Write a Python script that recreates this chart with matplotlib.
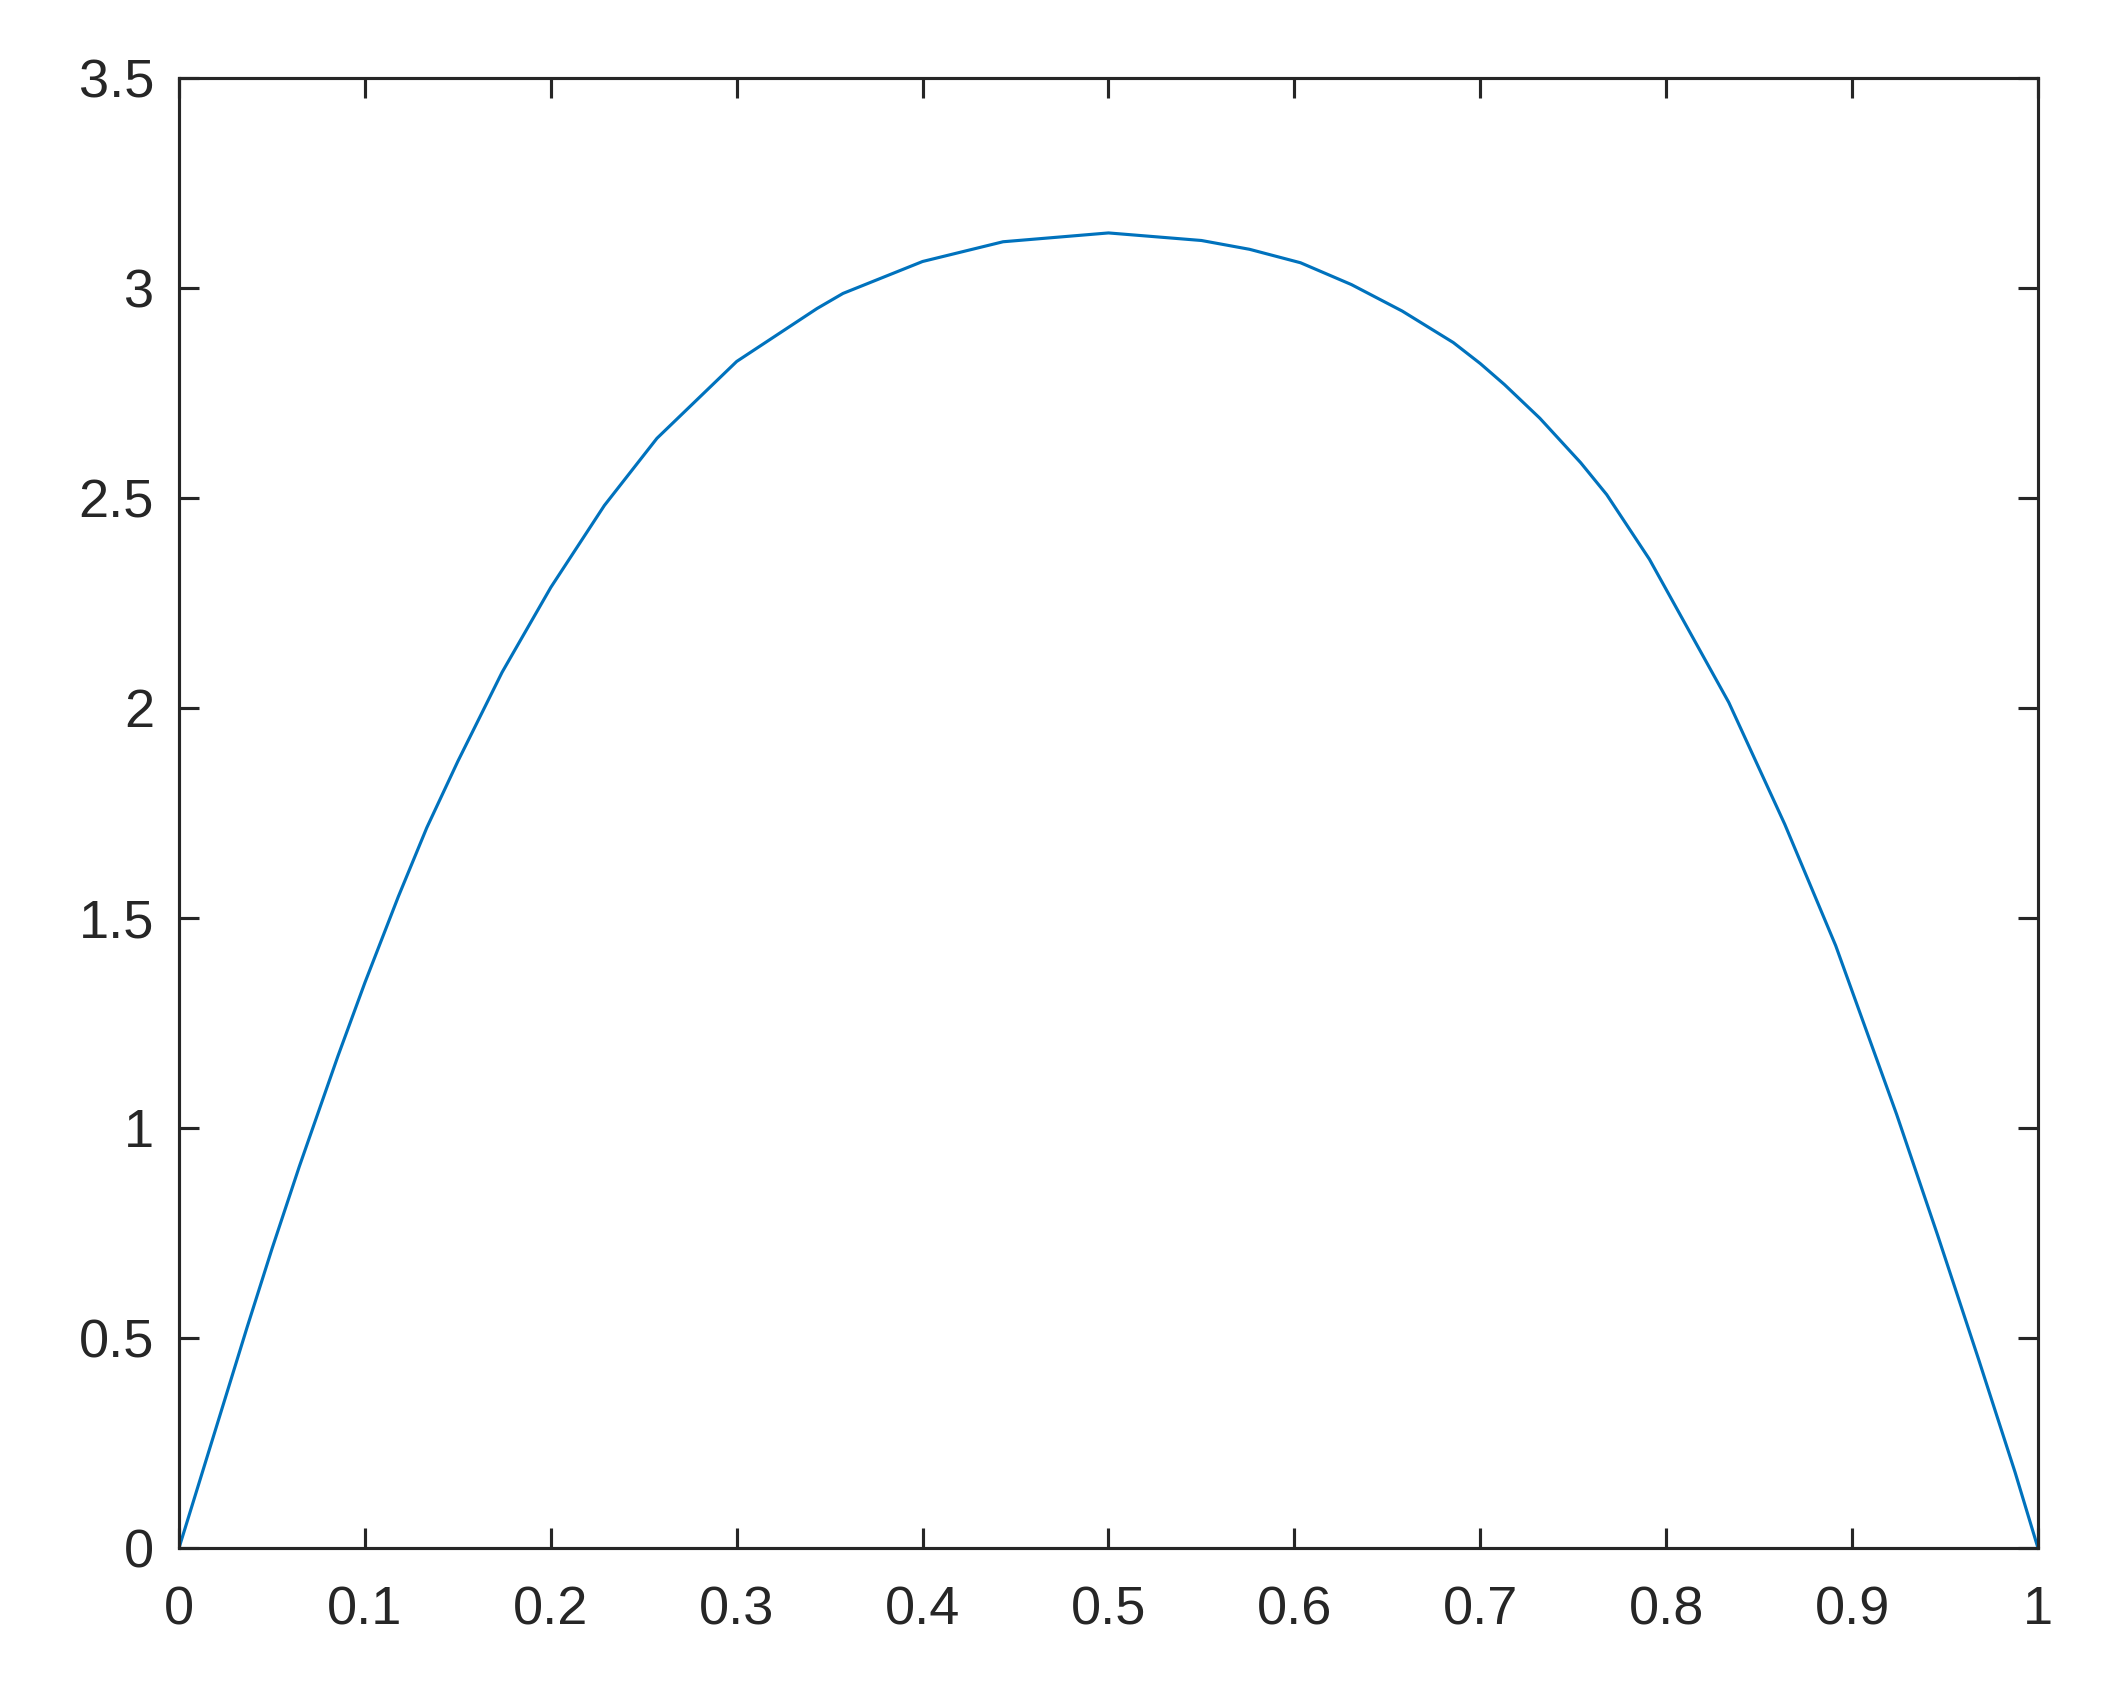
import numpy as np
import matplotlib.pyplot as plt

plt.rcParams['font.family'] = ['Liberation Sans', 'DejaVu Sans']

# values
x = [0.0, 0.0366, 0.05, 0.0647, 0.0854, 0.1, 0.118, 0.1333, 0.15, 0.1738,
     0.2, 0.2288, 0.2571, 0.3, 0.3432, 0.3572, 0.4, 0.4433, 0.5, 0.55,
     0.5759, 0.6033, 0.6307, 0.658, 0.6855, 0.7, 0.713, 0.732, 0.754,
     0.768, 0.791, 0.8337, 0.8638, 0.8912, 0.924, 0.946, 0.968,
     0.9877, 1.0]
y = [0.0, 0.525, 0.712, 0.908, 1.170, 1.346, 1.551, 1.715, 1.873, 2.085,
     2.287, 2.482, 2.642, 2.825, 2.951, 2.987, 3.063, 3.110, 3.131, 3.113,
     3.092, 3.060, 3.008, 2.945, 2.870, 2.820, 2.770, 2.690, 2.584,
     2.508, 2.354, 2.013, 1.723, 1.434, 1.032, 0.745, 0.450,
     0.180, 0.0]

xticks = np.round(np.arange(0, 1.01, 0.1), 1)
yticks = np.arange(0, 3.51, 0.5)
xlabels = ['0', '0.1', '0.2', '0.3', '0.4', '0.5', '0.6', '0.7', '0.8', '0.9', '1']
ylabels = ['0', '0.5', '1', '1.5', '2', '2.5', '3', '3.5']

fig = plt.figure(figsize=(2111 / 300, 1691 / 300), dpi=300)
ax = fig.add_axes([0.0848, 0.0846, 0.9654 - 0.0848, 0.9539 - 0.0846])

ax.plot(x, y, color='#0072BD', lw=0.75)

ax.set_xlim(0, 1)
ax.set_ylim(0, 3.5)
ax.set_xticks(xticks)
ax.set_xticklabels(xlabels)
ax.set_yticks(yticks)
ax.set_yticklabels(ylabels)

dark = '#262626'
for s in ax.spines.values():
    s.set_linewidth(0.75)
    s.set_color(dark)
ax.tick_params(axis='both', direction='in', length=4.7, width=0.75, color=dark,
               labelcolor=dark, labelsize=13, top=True, right=True)
ax.tick_params(axis='x', pad=9)
ax.tick_params(axis='y', pad=6)

fig.savefig('out.png', dpi=300, facecolor='white')
